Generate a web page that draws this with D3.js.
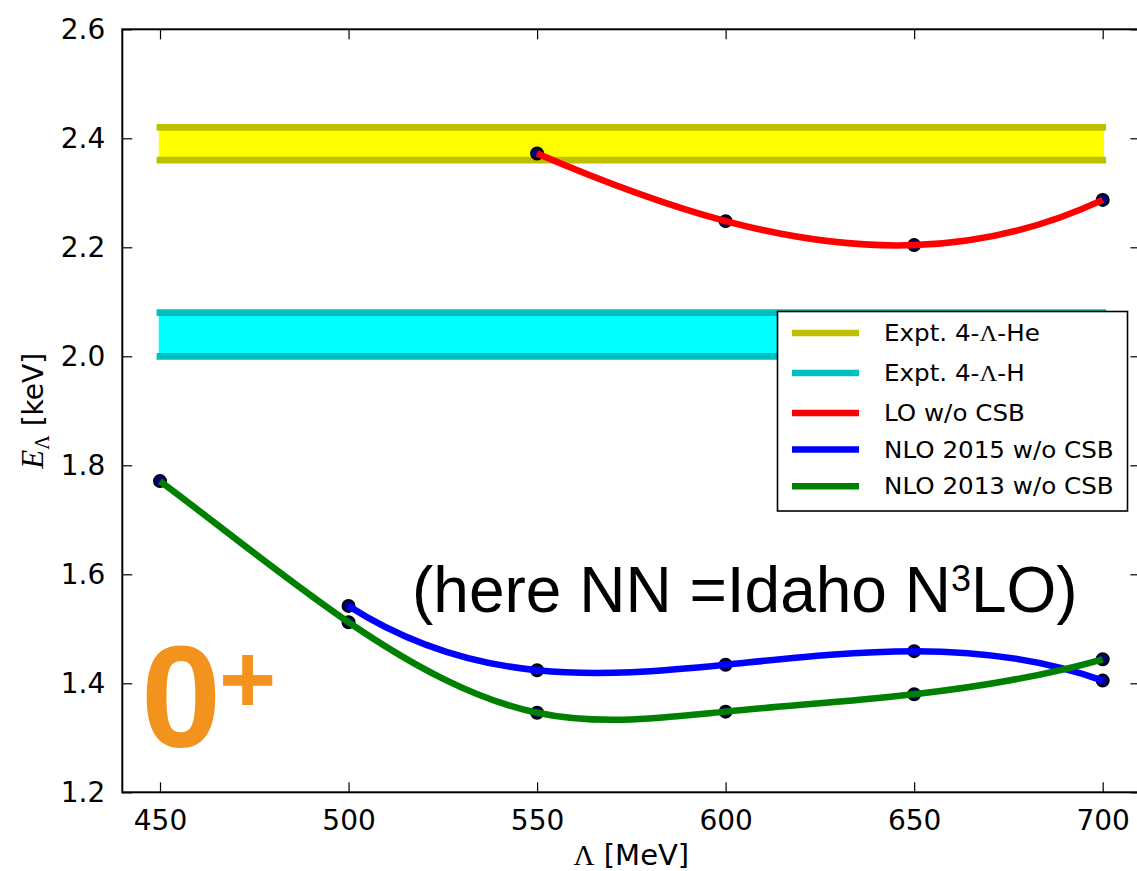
<!DOCTYPE html>
<html>
<head>
<meta charset="utf-8">
<script src="https://cdn.jsdelivr.net/npm/d3@7"></script>
<style>
  html, body { margin: 0; padding: 0; background: #fff; }
  svg { display: block; }
</style>
</head>
<body>
<svg id="chart" width="1137" height="871"></svg>
<script>
// Cutoff values (MeV) and tick labels
const xTickValues = [450, 500, 550, 600, 650, 700];
const yTickValues = [1.2, 1.4, 1.6, 1.8, 2.0, 2.2, 2.4, 2.6];

// Experimental bands [low, high] (keV), drawn across the cutoff range
const bandRange = [450, 700];
const bandHe = [2.36, 2.42];
const bandH = [2.00, 2.08];

// Computed separation energies (keV)
const lambdaLO = [550, 600, 650, 700];
const energyLO = [2.372, 2.248, 2.204, 2.287];

const lambdaNLO2015 = [500, 550, 600, 650, 700];
const energyNLO2015 = [1.542, 1.424, 1.434, 1.459, 1.405];

const lambdaNLO2013 = [450, 500, 550, 600, 650, 700];
const energyNLO2013 = [1.771, 1.512, 1.346, 1.348, 1.380, 1.444];

const legendLabels = [
  ["Expt. 4-", "Λ", "-He"],
  ["Expt. 4-", "Λ", "-H"],
  ["LO w/o CSB"],
  ["NLO 2015 w/o CSB"],
  ["NLO 2013 w/o CSB"]
];
const legendColors = ["#bfbf00", "#00bfbf", "#ff0000", "#0000ff", "#008000"];

// Cubic spline with not-a-knot end conditions, emitted as Bezier segments
function curveNotAKnot(context) {
  let xs, ys;
  return {
    areaStart() {}, areaEnd() {},
    lineStart() { xs = []; ys = []; },
    point(x, y) { xs.push(+x); ys.push(+y); },
    lineEnd() {
      const n = xs.length;
      if (n === 0) return;
      context.moveTo(xs[0], ys[0]);
      if (n < 4) { for (let i = 1; i < n; i++) context.lineTo(xs[i], ys[i]); return; }
      const h = [];
      for (let i = 0; i < n - 1; i++) h.push(xs[i + 1] - xs[i]);
      const A = Array.from({length: n}, () => new Array(n).fill(0));
      const b = new Array(n).fill(0);
      A[0][0] = h[1]; A[0][1] = -(h[0] + h[1]); A[0][2] = h[0];
      for (let i = 1; i < n - 1; i++) {
        A[i][i - 1] = h[i - 1];
        A[i][i] = 2 * (h[i - 1] + h[i]);
        A[i][i + 1] = h[i];
        b[i] = 6 * ((ys[i + 1] - ys[i]) / h[i] - (ys[i] - ys[i - 1]) / h[i - 1]);
      }
      A[n - 1][n - 3] = h[n - 2]; A[n - 1][n - 2] = -(h[n - 3] + h[n - 2]); A[n - 1][n - 1] = h[n - 3];
      // Gaussian elimination with partial pivoting
      for (let c = 0; c < n; c++) {
        let p = c;
        for (let r = c + 1; r < n; r++) if (Math.abs(A[r][c]) > Math.abs(A[p][c])) p = r;
        [A[c], A[p]] = [A[p], A[c]]; [b[c], b[p]] = [b[p], b[c]];
        for (let r = c + 1; r < n; r++) {
          const f = A[r][c] / A[c][c];
          for (let k = c; k < n; k++) A[r][k] -= f * A[c][k];
          b[r] -= f * b[c];
        }
      }
      const M = new Array(n).fill(0);
      for (let r = n - 1; r >= 0; r--) {
        let s = b[r];
        for (let k = r + 1; k < n; k++) s -= A[r][k] * M[k];
        M[r] = s / A[r][r];
      }
      for (let i = 0; i < n - 1; i++) {
        const hi = h[i], s = (ys[i + 1] - ys[i]) / hi;
        const d0 = s - hi * (2 * M[i] + M[i + 1]) / 6;
        const d1 = s + hi * (M[i] + 2 * M[i + 1]) / 6;
        context.bezierCurveTo(xs[i] + hi / 3, ys[i] + d0 * hi / 3,
                              xs[i + 1] - hi / 3, ys[i + 1] - d1 * hi / 3,
                              xs[i + 1], ys[i + 1]);
      }
    }
  };
}

const svg = d3.select("#chart");
const margin = {left: 122.3, top: 29.3, right: 1140.4, bottom: 792.3};

const x = d3.scaleLinear().domain([440, 710]).range([margin.left, margin.right]);
const y = d3.scaleLinear().domain([1.2, 2.6]).range([margin.bottom, margin.top]);

svg.append("rect").attr("width", 1137).attr("height", 871).attr("fill", "#fff");

const plot = svg.append("g");

// Experimental bands
function drawBand(band, fillColor, edgeColor) {
  plot.append("rect")
    .attr("x", x(bandRange[0])).attr("width", x(bandRange[1]) - x(bandRange[0]))
    .attr("y", y(band[1])).attr("height", y(band[0]) - y(band[1]))
    .attr("fill", fillColor).attr("stroke", fillColor).attr("stroke-width", 2.5);
  band.forEach(v => {
    plot.append("line")
      .attr("x1", x(bandRange[0])).attr("x2", x(bandRange[1]))
      .attr("y1", y(v)).attr("y2", y(v))
      .attr("stroke", edgeColor).attr("stroke-width", 6.8)
      .attr("stroke-linecap", "square");
  });
}
drawBand(bandHe, "#ffff00", "#bfbf00");
drawBand(bandH, "#00ffff", "#00bfbf");

// Calculated series: markers underneath, spline on top
const line = d3.line().x(d => x(d[0])).y(d => y(d[1])).curve(curveNotAKnot);
function drawSeries(lams, vals, color) {
  const pts = lams.map((l, i) => [l, vals[i]]);
  plot.append("g").selectAll("circle").data(pts).join("circle")
    .attr("cx", d => x(d[0])).attr("cy", d => y(d[1])).attr("r", 6)
    .attr("fill", "#00007a").attr("stroke", "#000").attr("stroke-width", 2);
  plot.append("path").datum(pts).attr("d", line)
    .attr("fill", "none").attr("stroke", color).attr("stroke-width", 6.5);
}
drawSeries(lambdaLO, energyLO, "#ff0000");
drawSeries(lambdaNLO2015, energyNLO2015, "#0000ff");
drawSeries(lambdaNLO2013, energyNLO2013, "#008000");

// Axes: ticks pointing inward on all four sides
const tickLen = 10;
const axes = svg.append("g");
axes.append("g").attr("transform", `translate(0,${margin.bottom})`)
  .call(d3.axisBottom(x).tickValues(xTickValues).tickSizeInner(-tickLen).tickSizeOuter(0).tickPadding(18).tickFormat(d3.format("d")));
axes.append("g").attr("transform", `translate(0,${margin.top})`)
  .call(d3.axisTop(x).tickValues(xTickValues).tickSizeInner(-tickLen).tickSizeOuter(0).tickFormat(""));
axes.append("g").attr("transform", `translate(${margin.left},0)`)
  .call(d3.axisLeft(y).tickValues(yTickValues).tickSizeInner(-tickLen).tickSizeOuter(0).tickPadding(17).tickFormat(d3.format(".1f")));
axes.append("g").attr("transform", `translate(${margin.right},0)`)
  .call(d3.axisRight(y).tickValues(yTickValues).tickSizeInner(-tickLen).tickSizeOuter(0).tickFormat(""));
axes.selectAll(".domain").remove();
axes.selectAll(".tick line").attr("stroke", "#000").attr("stroke-width", 1.2);
axes.selectAll(".tick text")
  .style("font-family", "'DejaVu Sans', sans-serif").style("font-size", "28px").style("fill", "#000");

// Frame
svg.append("rect")
  .attr("x", margin.left).attr("y", margin.top)
  .attr("width", margin.right - margin.left).attr("height", margin.bottom - margin.top)
  .attr("fill", "none").attr("stroke", "#000").attr("stroke-width", 2);

// Axis titles
const xTitle = svg.append("text")
  .attr("x", (margin.left + margin.right) / 2).attr("y", 865)
  .attr("text-anchor", "middle")
  .style("font-family", "'DejaVu Sans', sans-serif").style("font-size", "29px");
xTitle.append("tspan").style("font-family", "'Liberation Serif', serif").text("Λ");
xTitle.append("tspan").text(" [MeV]");

const yTitle = svg.append("text")
  .attr("transform", `translate(43,${(margin.top + margin.bottom) / 2}) rotate(-90)`)
  .attr("text-anchor", "middle")
  .style("font-family", "'DejaVu Sans', sans-serif").style("font-size", "28px");
yTitle.append("tspan").style("font-family", "'Liberation Serif', serif").style("font-style", "italic").style("font-size", "31px").text("E");
yTitle.append("tspan").style("font-family", "'Liberation Serif', serif").style("font-size", "20px").attr("dy", 6).text("Λ");
yTitle.append("tspan").attr("dy", -6).text(" [keV]");

// Legend
const legend = svg.append("g");
legend.append("rect").attr("x", 777.5).attr("y", 311.5).attr("width", 350).attr("height", 199.5)
  .attr("fill", "#fff").attr("stroke", "#000").attr("stroke-width", 1.6);
let rowY = 333;
legendLabels.forEach((parts, i) => {
  legend.append("line").attr("x1", 792).attr("x2", 859).attr("y1", rowY).attr("y2", rowY)
    .attr("stroke", legendColors[i]).attr("stroke-width", 6.5);
  const t = legend.append("text")
    .attr("transform", `translate(884,${rowY + 8}) scale(1.07,1)`)
    .style("font-family", "'DejaVu Sans', sans-serif").style("font-size", "23px");
  parts.forEach(p => {
    const s = t.append("tspan").text(p);
    if (p === "Λ") s.style("font-family", "'Liberation Serif', serif");
  });
  rowY += parts.length > 1 ? 40 : 36.6;
});

// Annotations
const note = svg.append("text")
  .attr("x", 412).attr("y", 612)
  .style("font-family", "'Liberation Sans', Arial, sans-serif").style("font-size", "64px");
note.append("tspan").text("(here NN =Idaho N");
note.append("tspan").style("font-size", "36px").attr("dy", -21).text("3");
note.append("tspan").attr("dy", 21).text("LO)");

const state = svg.append("text")
  .attr("x", 141).attr("y", 747)
  .style("font-family", "'Liberation Sans', Arial, sans-serif").style("font-weight", "bold")
  .style("fill", "#f2931e");
state.append("tspan").style("font-size", "144px").text("0");
state.append("tspan").style("font-size", "98px").attr("dy", -34).attr("dx", -2).text("+");
</script>
</body>
</html>
